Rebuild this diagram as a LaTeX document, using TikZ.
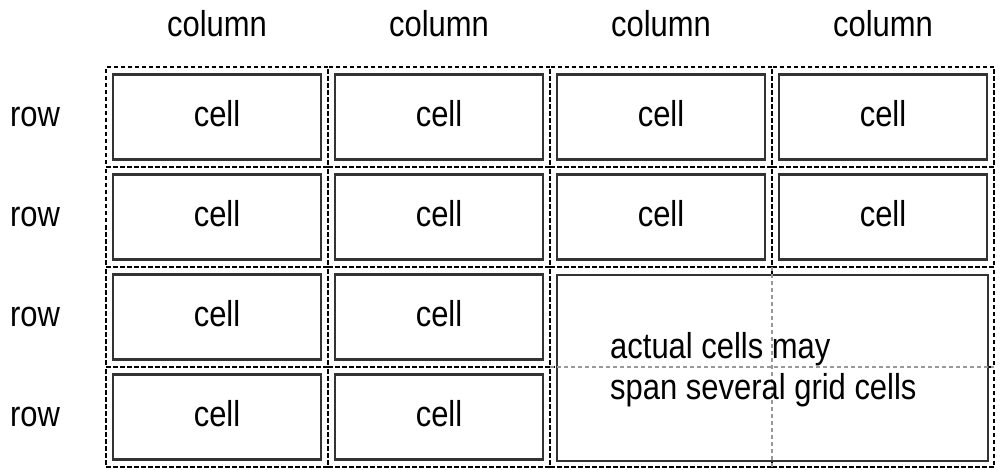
\documentclass[tikz,border=0pt]{standalone}
\usepackage{fontspec}
\setmainfont{Liberation Sans}[FakeStretch=0.86]
\begin{document}
\begin{tikzpicture}[x=1pt,y=-1pt,
  gridcell/.style={draw=black, dash pattern=on 4.5pt off 2.5pt, line width=1.6pt, minimum width=222pt, minimum height=100pt, inner sep=0pt, outer sep=0pt},
  cellbox/.style={draw=black!80, line width=2.2pt, fill=white, minimum width=208pt, minimum height=85pt, inner sep=0pt, text height=18.6pt, text depth=0pt, font=\fontsize{36}{41}\selectfont},
  lbl/.style={inner sep=0pt, text height=18.6pt, text depth=0pt, font=\fontsize{36}{41}\selectfont},
  guide/.style={draw=black!40, dash pattern=on 4pt off 3pt, line width=1.1pt}]
\useasboundingbox (0,0) rectangle (1000,470);
% grid cells
\foreach \r in {1,...,4}{
  \foreach \c in {1,...,4}{
    \node[gridcell] (g\r\c) at ({217+222*(\c-1)},{117+100*(\r-1)}) {};
  }
}
% column labels
\foreach \c in {1,...,4}{
  \node[lbl, anchor=base] (col\c) at ({217+222*(\c-1)},37) {column};
}
% row labels
\foreach \r in {1,...,4}{
  \node[lbl] (row\r) at (35,{117+100*(\r-1)}) {row};
}
% cells
\foreach \r/\c in {1/1,1/2,1/3,1/4,2/1,2/2,2/3,2/4,3/1,3/2,4/1,4/2}{
  \node[cellbox] (cell\r\c) at (g\r\c) {cell};
}
% spanning cell
\node[cellbox, minimum width=431pt, minimum height=186pt] (span) at (772.5,368) {};
\draw[guide] (g33.north east) -- (g43.south east);
\draw[guide] (g33.south west) -- (g34.south east);
\node[inner sep=0pt, anchor=north west, align=left, font=\fontsize{36}{41}\selectfont] (spantext) at (610,332) {actual cells may\\span several grid cells};
\end{tikzpicture}
\end{document}
